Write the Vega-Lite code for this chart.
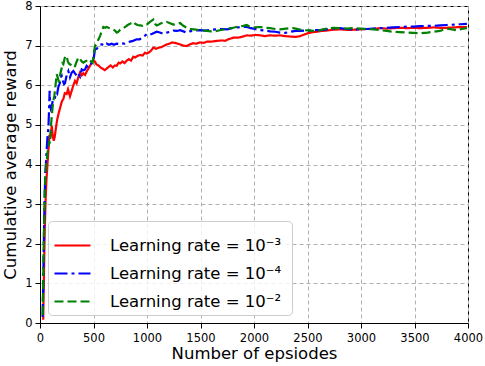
{
  "$schema": "https://vega.github.io/schema/vega-lite/v6.json",
  "width": 428,
  "height": 317,
  "autosize": {"type": "none"},
  "padding": {"left": 40, "top": 6, "right": 17, "bottom": 43},
  "background": "white",
  "config": {
    "font": "DejaVu Sans",
    "view": {"stroke": "#000000", "strokeWidth": 1},
    "axis": {
      "grid": true,
      "gridDash": [4, 3],
      "gridColor": "#b0b0b0",
      "gridWidth": 1,
      "domainColor": "#000000",
      "tickColor": "#000000",
      "tickSize": 5,
      "labelColor": "#000000",
      "titleColor": "#000000",
      "labelFontSize": 11.5,
      "titleFontSize": 16.5,
      "titleFontWeight": "normal",
      "labelPadding": 3,
      "labelFlush": false,
      "format": "d"
    },
    "legend": {
      "orient": "bottom-left",
      "offset": 8,
      "fillColor": "rgba(255,255,255,0.8)",
      "strokeColor": "#cccccc",
      "cornerRadius": 4,
      "padding": 5,
      "symbolType": "stroke",
      "symbolSize": 1296,
      "symbolStrokeWidth": 2.2,
      "labelFontSize": 16.5,
      "labelColor": "#000000",
      "labelOffset": 18,
      "rowPadding": 0,
      "labelLimit": 400
    }
  },
  "data": {
    "values": [
      {"lr":"Learning rate  = 10⁻³","episode":30,"reward":0.08},{"lr":"Learning rate  = 10⁻³","episode":35,"reward":0.9},{"lr":"Learning rate  = 10⁻³","episode":40,"reward":1.7},{"lr":"Learning rate  = 10⁻³","episode":45,"reward":2.4},{"lr":"Learning rate  = 10⁻³","episode":50,"reward":2.9},{"lr":"Learning rate  = 10⁻³","episode":55,"reward":3.3},{"lr":"Learning rate  = 10⁻³","episode":60,"reward":3.6},{"lr":"Learning rate  = 10⁻³","episode":65,"reward":3.8},{"lr":"Learning rate  = 10⁻³","episode":72,"reward":4.1},{"lr":"Learning rate  = 10⁻³","episode":80,"reward":4.4},{"lr":"Learning rate  = 10⁻³","episode":88,"reward":4.75},{"lr":"Learning rate  = 10⁻³","episode":95,"reward":4.65},{"lr":"Learning rate  = 10⁻³","episode":102,"reward":4.8},{"lr":"Learning rate  = 10⁻³","episode":110,"reward":4.98},{"lr":"Learning rate  = 10⁻³","episode":118,"reward":4.75},{"lr":"Learning rate  = 10⁻³","episode":128,"reward":4.6},{"lr":"Learning rate  = 10⁻³","episode":138,"reward":4.7},{"lr":"Learning rate  = 10⁻³","episode":150,"reward":4.95},{"lr":"Learning rate  = 10⁻³","episode":162,"reward":5.15},{"lr":"Learning rate  = 10⁻³","episode":175,"reward":5.3},{"lr":"Learning rate  = 10⁻³","episode":190,"reward":5.45},{"lr":"Learning rate  = 10⁻³","episode":205,"reward":5.6},{"lr":"Learning rate  = 10⁻³","episode":218,"reward":5.65},{"lr":"Learning rate  = 10⁻³","episode":232,"reward":5.8},{"lr":"Learning rate  = 10⁻³","episode":249,"reward":5.78},{"lr":"Learning rate  = 10⁻³","episode":262,"reward":5.9},{"lr":"Learning rate  = 10⁻³","episode":280,"reward":5.72},{"lr":"Learning rate  = 10⁻³","episode":295,"reward":5.85},{"lr":"Learning rate  = 10⁻³","episode":312,"reward":6.0},{"lr":"Learning rate  = 10⁻³","episode":327,"reward":6.11},{"lr":"Learning rate  = 10⁻³","episode":342,"reward":6.05},{"lr":"Learning rate  = 10⁻³","episode":358,"reward":6.2},{"lr":"Learning rate  = 10⁻³","episode":374,"reward":6.32},{"lr":"Learning rate  = 10⁻³","episode":390,"reward":6.25},{"lr":"Learning rate  = 10⁻³","episode":405,"reward":6.3},{"lr":"Learning rate  = 10⁻³","episode":421,"reward":6.26},{"lr":"Learning rate  = 10⁻³","episode":437,"reward":6.35},{"lr":"Learning rate  = 10⁻³","episode":452,"reward":6.42},{"lr":"Learning rate  = 10⁻³","episode":467,"reward":6.49},{"lr":"Learning rate  = 10⁻³","episode":482,"reward":6.55},{"lr":"Learning rate  = 10⁻³","episode":497,"reward":6.64},{"lr":"Learning rate  = 10⁻³","episode":512,"reward":6.6},{"lr":"Learning rate  = 10⁻³","episode":530,"reward":6.52},{"lr":"Learning rate  = 10⁻³","episode":548,"reward":6.5},{"lr":"Learning rate  = 10⁻³","episode":565,"reward":6.45},{"lr":"Learning rate  = 10⁻³","episode":585,"reward":6.42},{"lr":"Learning rate  = 10⁻³","episode":605,"reward":6.38},{"lr":"Learning rate  = 10⁻³","episode":623,"reward":6.42},{"lr":"Learning rate  = 10⁻³","episode":640,"reward":6.46},{"lr":"Learning rate  = 10⁻³","episode":660,"reward":6.5},{"lr":"Learning rate  = 10⁻³","episode":680,"reward":6.45},{"lr":"Learning rate  = 10⁻³","episode":700,"reward":6.5},{"lr":"Learning rate  = 10⁻³","episode":717,"reward":6.49},{"lr":"Learning rate  = 10⁻³","episode":735,"reward":6.57},{"lr":"Learning rate  = 10⁻³","episode":750,"reward":6.55},{"lr":"Learning rate  = 10⁻³","episode":770,"reward":6.6},{"lr":"Learning rate  = 10⁻³","episode":790,"reward":6.56},{"lr":"Learning rate  = 10⁻³","episode":810,"reward":6.62},{"lr":"Learning rate  = 10⁻³","episode":830,"reward":6.66},{"lr":"Learning rate  = 10⁻³","episode":850,"reward":6.62},{"lr":"Learning rate  = 10⁻³","episode":872,"reward":6.72},{"lr":"Learning rate  = 10⁻³","episode":890,"reward":6.7},{"lr":"Learning rate  = 10⁻³","episode":910,"reward":6.74},{"lr":"Learning rate  = 10⁻³","episode":935,"reward":6.76},{"lr":"Learning rate  = 10⁻³","episode":960,"reward":6.75},{"lr":"Learning rate  = 10⁻³","episode":980,"reward":6.82},{"lr":"Learning rate  = 10⁻³","episode":997,"reward":6.8},{"lr":"Learning rate  = 10⁻³","episode":1020,"reward":6.83},{"lr":"Learning rate  = 10⁻³","episode":1040,"reward":6.88},{"lr":"Learning rate  = 10⁻³","episode":1060,"reward":6.95},{"lr":"Learning rate  = 10⁻³","episode":1085,"reward":6.92},{"lr":"Learning rate  = 10⁻³","episode":1110,"reward":6.95},{"lr":"Learning rate  = 10⁻³","episode":1135,"reward":6.96},{"lr":"Learning rate  = 10⁻³","episode":1160,"reward":7.0},{"lr":"Learning rate  = 10⁻³","episode":1185,"reward":7.03},{"lr":"Learning rate  = 10⁻³","episode":1210,"reward":7.05},{"lr":"Learning rate  = 10⁻³","episode":1235,"reward":7.08},{"lr":"Learning rate  = 10⁻³","episode":1260,"reward":7.07},{"lr":"Learning rate  = 10⁻³","episode":1285,"reward":7.05},{"lr":"Learning rate  = 10⁻³","episode":1310,"reward":7.03},{"lr":"Learning rate  = 10⁻³","episode":1340,"reward":7.0},{"lr":"Learning rate  = 10⁻³","episode":1371,"reward":6.99},{"lr":"Learning rate  = 10⁻³","episode":1400,"reward":7.03},{"lr":"Learning rate  = 10⁻³","episode":1430,"reward":7.06},{"lr":"Learning rate  = 10⁻³","episode":1460,"reward":7.05},{"lr":"Learning rate  = 10⁻³","episode":1496,"reward":7.08},{"lr":"Learning rate  = 10⁻³","episode":1530,"reward":7.07},{"lr":"Learning rate  = 10⁻³","episode":1560,"reward":7.1},{"lr":"Learning rate  = 10⁻³","episode":1600,"reward":7.1},{"lr":"Learning rate  = 10⁻³","episode":1652,"reward":7.12},{"lr":"Learning rate  = 10⁻³","episode":1700,"reward":7.13},{"lr":"Learning rate  = 10⁻³","episode":1730,"reward":7.12},{"lr":"Learning rate  = 10⁻³","episode":1760,"reward":7.16},{"lr":"Learning rate  = 10⁻³","episode":1807,"reward":7.2},{"lr":"Learning rate  = 10⁻³","episode":1850,"reward":7.2},{"lr":"Learning rate  = 10⁻³","episode":1900,"reward":7.23},{"lr":"Learning rate  = 10⁻³","episode":1932,"reward":7.26},{"lr":"Learning rate  = 10⁻³","episode":1970,"reward":7.25},{"lr":"Learning rate  = 10⁻³","episode":2010,"reward":7.27},{"lr":"Learning rate  = 10⁻³","episode":2056,"reward":7.26},{"lr":"Learning rate  = 10⁻³","episode":2100,"reward":7.24},{"lr":"Learning rate  = 10⁻³","episode":2150,"reward":7.26},{"lr":"Learning rate  = 10⁻³","episode":2200,"reward":7.25},{"lr":"Learning rate  = 10⁻³","episode":2243,"reward":7.26},{"lr":"Learning rate  = 10⁻³","episode":2290,"reward":7.24},{"lr":"Learning rate  = 10⁻³","episode":2340,"reward":7.23},{"lr":"Learning rate  = 10⁻³","episode":2390,"reward":7.22},{"lr":"Learning rate  = 10⁻³","episode":2430,"reward":7.24},{"lr":"Learning rate  = 10⁻³","episode":2470,"reward":7.28},{"lr":"Learning rate  = 10⁻³","episode":2510,"reward":7.32},{"lr":"Learning rate  = 10⁻³","episode":2550,"reward":7.34},{"lr":"Learning rate  = 10⁻³","episode":2586,"reward":7.35},{"lr":"Learning rate  = 10⁻³","episode":2630,"reward":7.37},{"lr":"Learning rate  = 10⁻³","episode":2680,"reward":7.38},{"lr":"Learning rate  = 10⁻³","episode":2740,"reward":7.4},{"lr":"Learning rate  = 10⁻³","episode":2804,"reward":7.41},{"lr":"Learning rate  = 10⁻³","episode":2860,"reward":7.4},{"lr":"Learning rate  = 10⁻³","episode":2920,"reward":7.4},{"lr":"Learning rate  = 10⁻³","episode":2991,"reward":7.41},{"lr":"Learning rate  = 10⁻³","episode":3050,"reward":7.42},{"lr":"Learning rate  = 10⁻³","episode":3110,"reward":7.42},{"lr":"Learning rate  = 10⁻³","episode":3178,"reward":7.44},{"lr":"Learning rate  = 10⁻³","episode":3240,"reward":7.43},{"lr":"Learning rate  = 10⁻³","episode":3300,"reward":7.44},{"lr":"Learning rate  = 10⁻³","episode":3364,"reward":7.45},{"lr":"Learning rate  = 10⁻³","episode":3430,"reward":7.44},{"lr":"Learning rate  = 10⁻³","episode":3490,"reward":7.45},{"lr":"Learning rate  = 10⁻³","episode":3551,"reward":7.44},{"lr":"Learning rate  = 10⁻³","episode":3620,"reward":7.45},{"lr":"Learning rate  = 10⁻³","episode":3680,"reward":7.46},{"lr":"Learning rate  = 10⁻³","episode":3738,"reward":7.45},{"lr":"Learning rate  = 10⁻³","episode":3800,"reward":7.45},{"lr":"Learning rate  = 10⁻³","episode":3870,"reward":7.46},{"lr":"Learning rate  = 10⁻³","episode":3930,"reward":7.47},{"lr":"Learning rate  = 10⁻³","episode":3990,"reward":7.47},

      {"lr":"Learning rate  = 10⁻⁴","episode":25,"reward":0.15},{"lr":"Learning rate  = 10⁻⁴","episode":30,"reward":1.0},{"lr":"Learning rate  = 10⁻⁴","episode":35,"reward":1.9},{"lr":"Learning rate  = 10⁻⁴","episode":40,"reward":2.7},{"lr":"Learning rate  = 10⁻⁴","episode":45,"reward":3.3},{"lr":"Learning rate  = 10⁻⁴","episode":50,"reward":3.8},{"lr":"Learning rate  = 10⁻⁴","episode":57,"reward":4.1},{"lr":"Learning rate  = 10⁻⁴","episode":63,"reward":4.4},{"lr":"Learning rate  = 10⁻⁴","episode":70,"reward":4.7},{"lr":"Learning rate  = 10⁻⁴","episode":78,"reward":4.9},{"lr":"Learning rate  = 10⁻⁴","episode":85,"reward":5.4},{"lr":"Learning rate  = 10⁻⁴","episode":90,"reward":5.86},{"lr":"Learning rate  = 10⁻⁴","episode":95,"reward":5.5},{"lr":"Learning rate  = 10⁻⁴","episode":102,"reward":5.4},{"lr":"Learning rate  = 10⁻⁴","episode":109,"reward":5.44},{"lr":"Learning rate  = 10⁻⁴","episode":118,"reward":5.6},{"lr":"Learning rate  = 10⁻⁴","episode":128,"reward":5.7},{"lr":"Learning rate  = 10⁻⁴","episode":140,"reward":5.69},{"lr":"Learning rate  = 10⁻⁴","episode":150,"reward":5.8},{"lr":"Learning rate  = 10⁻⁴","episode":160,"reward":5.78},{"lr":"Learning rate  = 10⁻⁴","episode":171,"reward":5.95},{"lr":"Learning rate  = 10⁻⁴","episode":185,"reward":6.05},{"lr":"Learning rate  = 10⁻⁴","episode":195,"reward":6.2},{"lr":"Learning rate  = 10⁻⁴","episode":203,"reward":6.24},{"lr":"Learning rate  = 10⁻⁴","episode":215,"reward":6.1},{"lr":"Learning rate  = 10⁻⁴","episode":225,"reward":6.03},{"lr":"Learning rate  = 10⁻⁴","episode":234,"reward":6.05},{"lr":"Learning rate  = 10⁻⁴","episode":245,"reward":6.2},{"lr":"Learning rate  = 10⁻⁴","episode":255,"reward":6.3},{"lr":"Learning rate  = 10⁻⁴","episode":265,"reward":6.36},{"lr":"Learning rate  = 10⁻⁴","episode":280,"reward":6.2},{"lr":"Learning rate  = 10⁻⁴","episode":296,"reward":6.32},{"lr":"Learning rate  = 10⁻⁴","episode":312,"reward":6.36},{"lr":"Learning rate  = 10⁻⁴","episode":327,"reward":6.3},{"lr":"Learning rate  = 10⁻⁴","episode":343,"reward":6.24},{"lr":"Learning rate  = 10⁻⁴","episode":358,"reward":6.3},{"lr":"Learning rate  = 10⁻⁴","episode":374,"reward":6.22},{"lr":"Learning rate  = 10⁻⁴","episode":390,"reward":6.4},{"lr":"Learning rate  = 10⁻⁴","episode":405,"reward":6.38},{"lr":"Learning rate  = 10⁻⁴","episode":421,"reward":6.4},{"lr":"Learning rate  = 10⁻⁴","episode":436,"reward":6.49},{"lr":"Learning rate  = 10⁻⁴","episode":452,"reward":6.45},{"lr":"Learning rate  = 10⁻⁴","episode":467,"reward":6.5},{"lr":"Learning rate  = 10⁻⁴","episode":483,"reward":6.57},{"lr":"Learning rate  = 10⁻⁴","episode":498,"reward":6.6},{"lr":"Learning rate  = 10⁻⁴","episode":514,"reward":6.91},{"lr":"Learning rate  = 10⁻⁴","episode":530,"reward":6.92},{"lr":"Learning rate  = 10⁻⁴","episode":545,"reward":6.98},{"lr":"Learning rate  = 10⁻⁴","episode":561,"reward":7.03},{"lr":"Learning rate  = 10⁻⁴","episode":580,"reward":7.03},{"lr":"Learning rate  = 10⁻⁴","episode":600,"reward":7.0},{"lr":"Learning rate  = 10⁻⁴","episode":623,"reward":7.05},{"lr":"Learning rate  = 10⁻⁴","episode":645,"reward":7.02},{"lr":"Learning rate  = 10⁻⁴","episode":670,"reward":7.05},{"lr":"Learning rate  = 10⁻⁴","episode":690,"reward":7.02},{"lr":"Learning rate  = 10⁻⁴","episode":717,"reward":7.05},{"lr":"Learning rate  = 10⁻⁴","episode":740,"reward":7.04},{"lr":"Learning rate  = 10⁻⁴","episode":765,"reward":7.06},{"lr":"Learning rate  = 10⁻⁴","episode":790,"reward":7.05},{"lr":"Learning rate  = 10⁻⁴","episode":810,"reward":7.08},{"lr":"Learning rate  = 10⁻⁴","episode":840,"reward":7.1},{"lr":"Learning rate  = 10⁻⁴","episode":870,"reward":7.12},{"lr":"Learning rate  = 10⁻⁴","episode":904,"reward":7.16},{"lr":"Learning rate  = 10⁻⁴","episode":930,"reward":7.16},{"lr":"Learning rate  = 10⁻⁴","episode":960,"reward":7.2},{"lr":"Learning rate  = 10⁻⁴","episode":997,"reward":7.29},{"lr":"Learning rate  = 10⁻⁴","episode":1020,"reward":7.27},{"lr":"Learning rate  = 10⁻⁴","episode":1050,"reward":7.3},{"lr":"Learning rate  = 10⁻⁴","episode":1090,"reward":7.35},{"lr":"Learning rate  = 10⁻⁴","episode":1120,"reward":7.33},{"lr":"Learning rate  = 10⁻⁴","episode":1150,"reward":7.3},{"lr":"Learning rate  = 10⁻⁴","episode":1184,"reward":7.33},{"lr":"Learning rate  = 10⁻⁴","episode":1220,"reward":7.35},{"lr":"Learning rate  = 10⁻⁴","episode":1250,"reward":7.38},{"lr":"Learning rate  = 10⁻⁴","episode":1280,"reward":7.37},{"lr":"Learning rate  = 10⁻⁴","episode":1309,"reward":7.39},{"lr":"Learning rate  = 10⁻⁴","episode":1340,"reward":7.36},{"lr":"Learning rate  = 10⁻⁴","episode":1371,"reward":7.33},{"lr":"Learning rate  = 10⁻⁴","episode":1400,"reward":7.36},{"lr":"Learning rate  = 10⁻⁴","episode":1440,"reward":7.38},{"lr":"Learning rate  = 10⁻⁴","episode":1496,"reward":7.39},{"lr":"Learning rate  = 10⁻⁴","episode":1540,"reward":7.38},{"lr":"Learning rate  = 10⁻⁴","episode":1600,"reward":7.4},{"lr":"Learning rate  = 10⁻⁴","episode":1652,"reward":7.41},{"lr":"Learning rate  = 10⁻⁴","episode":1700,"reward":7.42},{"lr":"Learning rate  = 10⁻⁴","episode":1750,"reward":7.41},{"lr":"Learning rate  = 10⁻⁴","episode":1807,"reward":7.45},{"lr":"Learning rate  = 10⁻⁴","episode":1850,"reward":7.46},{"lr":"Learning rate  = 10⁻⁴","episode":1900,"reward":7.47},{"lr":"Learning rate  = 10⁻⁴","episode":1932,"reward":7.47},{"lr":"Learning rate  = 10⁻⁴","episode":1970,"reward":7.44},{"lr":"Learning rate  = 10⁻⁴","episode":2010,"reward":7.42},{"lr":"Learning rate  = 10⁻⁴","episode":2056,"reward":7.39},{"lr":"Learning rate  = 10⁻⁴","episode":2100,"reward":7.38},{"lr":"Learning rate  = 10⁻⁴","episode":2150,"reward":7.36},{"lr":"Learning rate  = 10⁻⁴","episode":2200,"reward":7.35},{"lr":"Learning rate  = 10⁻⁴","episode":2243,"reward":7.33},{"lr":"Learning rate  = 10⁻⁴","episode":2290,"reward":7.32},{"lr":"Learning rate  = 10⁻⁴","episode":2340,"reward":7.35},{"lr":"Learning rate  = 10⁻⁴","episode":2390,"reward":7.37},{"lr":"Learning rate  = 10⁻⁴","episode":2430,"reward":7.37},{"lr":"Learning rate  = 10⁻⁴","episode":2480,"reward":7.38},{"lr":"Learning rate  = 10⁻⁴","episode":2530,"reward":7.38},{"lr":"Learning rate  = 10⁻⁴","episode":2580,"reward":7.39},{"lr":"Learning rate  = 10⁻⁴","episode":2617,"reward":7.39},{"lr":"Learning rate  = 10⁻⁴","episode":2680,"reward":7.41},{"lr":"Learning rate  = 10⁻⁴","episode":2740,"reward":7.43},{"lr":"Learning rate  = 10⁻⁴","episode":2804,"reward":7.44},{"lr":"Learning rate  = 10⁻⁴","episode":2860,"reward":7.42},{"lr":"Learning rate  = 10⁻⁴","episode":2920,"reward":7.41},{"lr":"Learning rate  = 10⁻⁴","episode":2991,"reward":7.41},{"lr":"Learning rate  = 10⁻⁴","episode":3050,"reward":7.42},{"lr":"Learning rate  = 10⁻⁴","episode":3110,"reward":7.43},{"lr":"Learning rate  = 10⁻⁴","episode":3178,"reward":7.44},{"lr":"Learning rate  = 10⁻⁴","episode":3240,"reward":7.45},{"lr":"Learning rate  = 10⁻⁴","episode":3300,"reward":7.46},{"lr":"Learning rate  = 10⁻⁴","episode":3364,"reward":7.47},{"lr":"Learning rate  = 10⁻⁴","episode":3430,"reward":7.48},{"lr":"Learning rate  = 10⁻⁴","episode":3490,"reward":7.48},{"lr":"Learning rate  = 10⁻⁴","episode":3551,"reward":7.49},{"lr":"Learning rate  = 10⁻⁴","episode":3620,"reward":7.5},{"lr":"Learning rate  = 10⁻⁴","episode":3680,"reward":7.5},{"lr":"Learning rate  = 10⁻⁴","episode":3738,"reward":7.51},{"lr":"Learning rate  = 10⁻⁴","episode":3800,"reward":7.52},{"lr":"Learning rate  = 10⁻⁴","episode":3870,"reward":7.53},{"lr":"Learning rate  = 10⁻⁴","episode":3930,"reward":7.54},{"lr":"Learning rate  = 10⁻⁴","episode":3990,"reward":7.55},

      {"lr":"Learning rate  = 10⁻²","episode":25,"reward":0.2},{"lr":"Learning rate  = 10⁻²","episode":30,"reward":1.1},{"lr":"Learning rate  = 10⁻²","episode":35,"reward":2.0},{"lr":"Learning rate  = 10⁻²","episode":40,"reward":2.8},{"lr":"Learning rate  = 10⁻²","episode":45,"reward":3.4},{"lr":"Learning rate  = 10⁻²","episode":50,"reward":3.7},{"lr":"Learning rate  = 10⁻²","episode":57,"reward":4.0},{"lr":"Learning rate  = 10⁻²","episode":63,"reward":4.1},{"lr":"Learning rate  = 10⁻²","episode":70,"reward":4.3},{"lr":"Learning rate  = 10⁻²","episode":78,"reward":4.4},{"lr":"Learning rate  = 10⁻²","episode":85,"reward":4.6},{"lr":"Learning rate  = 10⁻²","episode":93,"reward":4.53},{"lr":"Learning rate  = 10⁻²","episode":100,"reward":4.9},{"lr":"Learning rate  = 10⁻²","episode":109,"reward":5.19},{"lr":"Learning rate  = 10⁻²","episode":118,"reward":5.45},{"lr":"Learning rate  = 10⁻²","episode":125,"reward":5.61},{"lr":"Learning rate  = 10⁻²","episode":135,"reward":5.75},{"lr":"Learning rate  = 10⁻²","episode":145,"reward":6.0},{"lr":"Learning rate  = 10⁻²","episode":156,"reward":6.28},{"lr":"Learning rate  = 10⁻²","episode":165,"reward":6.2},{"lr":"Learning rate  = 10⁻²","episode":175,"reward":6.1},{"lr":"Learning rate  = 10⁻²","episode":181,"reward":6.11},{"lr":"Learning rate  = 10⁻²","episode":190,"reward":6.3},{"lr":"Learning rate  = 10⁻²","episode":200,"reward":6.4},{"lr":"Learning rate  = 10⁻²","episode":210,"reward":6.55},{"lr":"Learning rate  = 10⁻²","episode":218,"reward":6.53},{"lr":"Learning rate  = 10⁻²","episode":230,"reward":6.68},{"lr":"Learning rate  = 10⁻²","episode":240,"reward":6.74},{"lr":"Learning rate  = 10⁻²","episode":249,"reward":6.74},{"lr":"Learning rate  = 10⁻²","episode":260,"reward":6.6},{"lr":"Learning rate  = 10⁻²","episode":270,"reward":6.55},{"lr":"Learning rate  = 10⁻²","episode":280,"reward":6.53},{"lr":"Learning rate  = 10⁻²","episode":296,"reward":6.5},{"lr":"Learning rate  = 10⁻²","episode":312,"reward":6.45},{"lr":"Learning rate  = 10⁻²","episode":327,"reward":6.48},{"lr":"Learning rate  = 10⁻²","episode":343,"reward":6.6},{"lr":"Learning rate  = 10⁻²","episode":358,"reward":6.7},{"lr":"Learning rate  = 10⁻²","episode":374,"reward":6.66},{"lr":"Learning rate  = 10⁻²","episode":390,"reward":6.6},{"lr":"Learning rate  = 10⁻²","episode":405,"reward":6.57},{"lr":"Learning rate  = 10⁻²","episode":421,"reward":6.6},{"lr":"Learning rate  = 10⁻²","episode":436,"reward":6.62},{"lr":"Learning rate  = 10⁻²","episode":452,"reward":6.66},{"lr":"Learning rate  = 10⁻²","episode":467,"reward":6.62},{"lr":"Learning rate  = 10⁻²","episode":480,"reward":6.6},{"lr":"Learning rate  = 10⁻²","episode":492,"reward":6.57},{"lr":"Learning rate  = 10⁻²","episode":505,"reward":6.85},{"lr":"Learning rate  = 10⁻²","episode":514,"reward":6.99},{"lr":"Learning rate  = 10⁻²","episode":530,"reward":7.05},{"lr":"Learning rate  = 10⁻²","episode":545,"reward":7.15},{"lr":"Learning rate  = 10⁻²","episode":561,"reward":7.24},{"lr":"Learning rate  = 10⁻²","episode":575,"reward":7.35},{"lr":"Learning rate  = 10⁻²","episode":592,"reward":7.47},{"lr":"Learning rate  = 10⁻²","episode":610,"reward":7.45},{"lr":"Learning rate  = 10⁻²","episode":623,"reward":7.47},{"lr":"Learning rate  = 10⁻²","episode":640,"reward":7.45},{"lr":"Learning rate  = 10⁻²","episode":654,"reward":7.44},{"lr":"Learning rate  = 10⁻²","episode":670,"reward":7.42},{"lr":"Learning rate  = 10⁻²","episode":685,"reward":7.41},{"lr":"Learning rate  = 10⁻²","episode":700,"reward":7.38},{"lr":"Learning rate  = 10⁻²","episode":717,"reward":7.33},{"lr":"Learning rate  = 10⁻²","episode":732,"reward":7.35},{"lr":"Learning rate  = 10⁻²","episode":750,"reward":7.4},{"lr":"Learning rate  = 10⁻²","episode":765,"reward":7.42},{"lr":"Learning rate  = 10⁻²","episode":779,"reward":7.44},{"lr":"Learning rate  = 10⁻²","episode":800,"reward":7.48},{"lr":"Learning rate  = 10⁻²","episode":820,"reward":7.52},{"lr":"Learning rate  = 10⁻²","episode":841,"reward":7.55},{"lr":"Learning rate  = 10⁻²","episode":860,"reward":7.58},{"lr":"Learning rate  = 10⁻²","episode":872,"reward":7.6},{"lr":"Learning rate  = 10⁻²","episode":890,"reward":7.55},{"lr":"Learning rate  = 10⁻²","episode":910,"reward":7.52},{"lr":"Learning rate  = 10⁻²","episode":935,"reward":7.51},{"lr":"Learning rate  = 10⁻²","episode":960,"reward":7.5},{"lr":"Learning rate  = 10⁻²","episode":980,"reward":7.53},{"lr":"Learning rate  = 10⁻²","episode":997,"reward":7.53},{"lr":"Learning rate  = 10⁻²","episode":1015,"reward":7.57},{"lr":"Learning rate  = 10⁻²","episode":1028,"reward":7.6},{"lr":"Learning rate  = 10⁻²","episode":1044,"reward":7.63},{"lr":"Learning rate  = 10⁻²","episode":1060,"reward":7.66},{"lr":"Learning rate  = 10⁻²","episode":1075,"reward":7.55},{"lr":"Learning rate  = 10⁻²","episode":1091,"reward":7.51},{"lr":"Learning rate  = 10⁻²","episode":1110,"reward":7.53},{"lr":"Learning rate  = 10⁻²","episode":1122,"reward":7.55},{"lr":"Learning rate  = 10⁻²","episode":1150,"reward":7.58},{"lr":"Learning rate  = 10⁻²","episode":1184,"reward":7.6},{"lr":"Learning rate  = 10⁻²","episode":1210,"reward":7.57},{"lr":"Learning rate  = 10⁻²","episode":1246,"reward":7.53},{"lr":"Learning rate  = 10⁻²","episode":1280,"reward":7.55},{"lr":"Learning rate  = 10⁻²","episode":1309,"reward":7.57},{"lr":"Learning rate  = 10⁻²","episode":1340,"reward":7.5},{"lr":"Learning rate  = 10⁻²","episode":1371,"reward":7.45},{"lr":"Learning rate  = 10⁻²","episode":1400,"reward":7.42},{"lr":"Learning rate  = 10⁻²","episode":1440,"reward":7.41},{"lr":"Learning rate  = 10⁻²","episode":1496,"reward":7.39},{"lr":"Learning rate  = 10⁻²","episode":1540,"reward":7.38},{"lr":"Learning rate  = 10⁻²","episode":1600,"reward":7.36},{"lr":"Learning rate  = 10⁻²","episode":1652,"reward":7.37},{"lr":"Learning rate  = 10⁻²","episode":1700,"reward":7.4},{"lr":"Learning rate  = 10⁻²","episode":1750,"reward":7.42},{"lr":"Learning rate  = 10⁻²","episode":1807,"reward":7.45},{"lr":"Learning rate  = 10⁻²","episode":1850,"reward":7.48},{"lr":"Learning rate  = 10⁻²","episode":1900,"reward":7.5},{"lr":"Learning rate  = 10⁻²","episode":1932,"reward":7.52},{"lr":"Learning rate  = 10⁻²","episode":1963,"reward":7.47},{"lr":"Learning rate  = 10⁻²","episode":2010,"reward":7.46},{"lr":"Learning rate  = 10⁻²","episode":2056,"reward":7.47},{"lr":"Learning rate  = 10⁻²","episode":2100,"reward":7.45},{"lr":"Learning rate  = 10⁻²","episode":2150,"reward":7.44},{"lr":"Learning rate  = 10⁻²","episode":2200,"reward":7.42},{"lr":"Learning rate  = 10⁻²","episode":2243,"reward":7.41},{"lr":"Learning rate  = 10⁻²","episode":2300,"reward":7.43},{"lr":"Learning rate  = 10⁻²","episode":2368,"reward":7.44},{"lr":"Learning rate  = 10⁻²","episode":2420,"reward":7.41},{"lr":"Learning rate  = 10⁻²","episode":2480,"reward":7.39},{"lr":"Learning rate  = 10⁻²","episode":2555,"reward":7.37},{"lr":"Learning rate  = 10⁻²","episode":2600,"reward":7.38},{"lr":"Learning rate  = 10⁻²","episode":2660,"reward":7.42},{"lr":"Learning rate  = 10⁻²","episode":2742,"reward":7.45},{"lr":"Learning rate  = 10⁻²","episode":2800,"reward":7.44},{"lr":"Learning rate  = 10⁻²","episode":2860,"reward":7.43},{"lr":"Learning rate  = 10⁻²","episode":2929,"reward":7.44},{"lr":"Learning rate  = 10⁻²","episode":2990,"reward":7.43},{"lr":"Learning rate  = 10⁻²","episode":3050,"reward":7.42},{"lr":"Learning rate  = 10⁻²","episode":3116,"reward":7.41},{"lr":"Learning rate  = 10⁻²","episode":3180,"reward":7.39},{"lr":"Learning rate  = 10⁻²","episode":3240,"reward":7.37},{"lr":"Learning rate  = 10⁻²","episode":3300,"reward":7.35},{"lr":"Learning rate  = 10⁻²","episode":3360,"reward":7.34},{"lr":"Learning rate  = 10⁻²","episode":3427,"reward":7.33},{"lr":"Learning rate  = 10⁻²","episode":3490,"reward":7.32},{"lr":"Learning rate  = 10⁻²","episode":3551,"reward":7.31},{"lr":"Learning rate  = 10⁻²","episode":3620,"reward":7.33},{"lr":"Learning rate  = 10⁻²","episode":3676,"reward":7.35},{"lr":"Learning rate  = 10⁻²","episode":3738,"reward":7.37},{"lr":"Learning rate  = 10⁻²","episode":3801,"reward":7.43},{"lr":"Learning rate  = 10⁻²","episode":3850,"reward":7.41},{"lr":"Learning rate  = 10⁻²","episode":3894,"reward":7.39},{"lr":"Learning rate  = 10⁻²","episode":3940,"reward":7.42},{"lr":"Learning rate  = 10⁻²","episode":3990,"reward":7.44}
    ]
  },
  "mark": {"type": "line", "strokeWidth": 2.2, "clip": true},
  "encoding": {
    "x": {
      "field": "episode",
      "type": "quantitative",
      "scale": {"domain": [0, 4000], "nice": false},
      "axis": {
        "title": "Number of epsiodes",
        "values": [0, 500, 1000, 1500, 2000, 2500, 3000, 3500, 4000],
        "labelPadding": 4,
        "titlePadding": 2
      }
    },
    "y": {
      "field": "reward",
      "type": "quantitative",
      "scale": {"domain": [0, 8], "nice": false},
      "axis": {
        "title": "Cumulative average reward",
        "values": [0, 1, 2, 3, 4, 5, 6, 7, 8],
        "titlePadding": 6
      }
    },
    "color": {
      "field": "lr",
      "type": "nominal",
      "scale": {
        "domain": ["Learning rate  = 10⁻³", "Learning rate  = 10⁻⁴", "Learning rate  = 10⁻²"],
        "range": ["#ff0000", "#0000ff", "#008000"]
      },
      "legend": {"title": null}
    },
    "strokeDash": {
      "field": "lr",
      "type": "nominal",
      "scale": {
        "domain": ["Learning rate  = 10⁻³", "Learning rate  = 10⁻⁴", "Learning rate  = 10⁻²"],
        "range": [[1, 0], [13, 4, 3, 4], [9, 4]]
      },
      "legend": {"title": null}
    }
  }
}
